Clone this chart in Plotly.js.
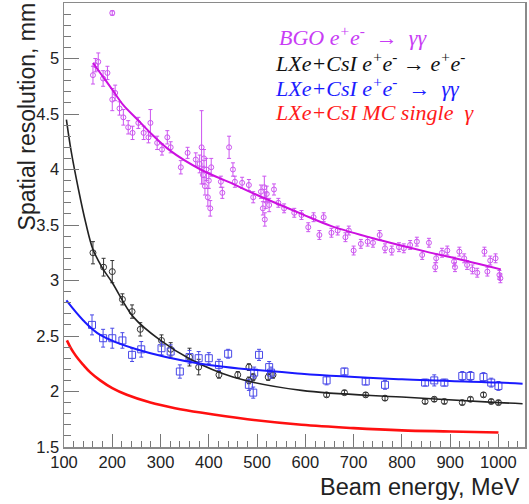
<!DOCTYPE html>
<html>
<head>
<meta charset="utf-8">
<script src="https://cdn.plot.ly/plotly-3.0.1.min.js"></script>
<style>html,body{margin:0;padding:0;background:#fff;}#chart{width:529px;height:504px;}</style>
</head>
<body>
<div id="chart"></div>
<script>
// BGO e+e- -> gamma gamma measurements
const bgoE = [160,165,171,181,190,200,206,215,223,233,242,254,265,275,279,293,303,314,321,342,356,373,381,385,388,390,392,395,398,400,403,405,425,428,442,450,454,469,483,492,508,512,515,516,518,520,525,535,544,556,577,592,606,617,629,638,654,667,683,690,700,715,729,740,754,765,779,794,804,817,831,842,856,869,871,883,894,908,910,919,929,935,946,956,971,977,983,994,1002,1004,200];
const bgoR = [4.85,4.94,4.97,4.82,4.87,4.63,4.69,4.55,4.47,4.38,4.33,4.42,4.33,4.29,4.42,4.24,4.18,4.29,4.20,4.02,4.15,4.09,4.05,4.20,3.95,4.10,3.85,4.00,3.75,3.90,3.65,4.02,3.89,3.79,4.20,4.00,3.89,3.88,3.86,3.75,3.80,3.65,3.84,3.55,3.72,3.78,3.68,3.82,3.70,3.65,3.61,3.59,3.48,3.57,3.41,3.57,3.43,3.45,3.39,3.45,3.27,3.33,3.35,3.34,3.41,3.29,3.27,3.30,3.29,3.32,3.35,3.23,3.34,3.12,3.20,3.25,3.27,3.17,3.12,3.26,3.20,3.14,3.10,3.07,3.26,3.08,3.18,3.20,3.05,3.02,5.41];
const bgoErr = [0.08,0.06,0.08,0.07,0.06,0.10,0.07,0.06,0.07,0.06,0.06,0.05,0.06,0.05,0.12,0.06,0.05,0.06,0.05,0.06,0.05,0.06,0.08,0.33,0.08,0.08,0.08,0.10,0.08,0.07,0.07,0.08,0.05,0.05,0.10,0.06,0.05,0.05,0.05,0.05,0.06,0.06,0.10,0.06,0.07,0.07,0.06,0.05,0.04,0.04,0.04,0.04,0.04,0.04,0.04,0.04,0.04,0.04,0.04,0.04,0.04,0.04,0.04,0.04,0.04,0.04,0.04,0.04,0.04,0.04,0.04,0.04,0.04,0.04,0.04,0.04,0.04,0.04,0.04,0.04,0.04,0.04,0.04,0.04,0.04,0.04,0.04,0.04,0.04,0.04,0.02];

// LXe+CsI e+e- -> e+e-
const blkE = [160,182,200,221,241,258,302,321,360,379,421,460,483,483,492,523,533,644,681,725,765,848,867,888,925,942,969,985,1000];
const blkR = [3.25,3.12,3.08,2.83,2.72,2.56,2.46,2.38,2.31,2.22,2.15,2.15,2.22,2.10,2.13,2.13,2.15,1.97,1.99,1.97,1.94,1.91,1.93,1.91,1.90,1.93,1.97,1.91,1.90];
const blkErr = [0.10,0.08,0.10,0.05,0.06,0.06,0.05,0.06,0.08,0.07,0.03,0.03,0.03,0.03,0.03,0.03,0.03,0.02,0.02,0.02,0.02,0.02,0.02,0.02,0.02,0.02,0.02,0.02,0.02];

// LXe+CsI e+e- -> gamma gamma
const bluE = [158,181,200,221,241,260,302,321,340,360,379,400,421,440,483,492,494,504,525,529,644,681,725,765,848,867,888,925,942,969,985,1000];
const bluR = [2.60,2.48,2.48,2.46,2.33,2.38,2.39,2.36,2.18,2.31,2.30,2.30,2.24,2.34,2.06,1.99,2.17,2.33,2.22,2.17,2.10,2.18,2.09,2.06,2.08,2.10,2.08,2.14,2.14,2.13,2.08,2.05];
const bluErr = [0.09,0.08,0.09,0.07,0.06,0.07,0.06,0.06,0.06,0.06,0.06,0.05,0.05,0.04,0.05,0.05,0.05,0.05,0.05,0.05,0.04,0.03,0.03,0.04,0.03,0.05,0.03,0.04,0.04,0.04,0.04,0.04];

// Fit curves
const bgoFitE = [160,180,200,223,250,279,320,383,450,500,592,654,758,850,930,1005];
const bgoFitR = [4.96,4.84,4.72,4.58,4.46,4.33,4.17,4.00,3.87,3.77,3.60,3.49,3.36,3.26,3.18,3.10];
const blkFitE = [105,115,130,145,160,180,200,244,300,362,450,592,800,1000,1050];
const blkFitR = [4.45,4.16,3.82,3.52,3.28,3.11,2.98,2.67,2.46,2.29,2.13,2.01,1.95,1.90,1.89];
const bluFitE = [105,140,175,250,383,592,800,1000,1050];
const bluFitR = [2.82,2.64,2.51,2.38,2.25,2.16,2.11,2.08,2.07];
const redFitE = [106,113,120,130,140,155,175,200,230,279,330,383,480,592,700,800,900,1000];
const redFitR = [2.46,2.40,2.35,2.29,2.24,2.17,2.10,2.03,1.97,1.90,1.85,1.81,1.75,1.70,1.67,1.65,1.64,1.63];

const legendTexts = [
  "BGO e<sup>+</sup>e<sup>-</sup>  →  γγ",
  "LXe+CsI e<sup>+</sup>e<sup>-</sup> → e<sup>+</sup>e<sup>-</sup>",
  "LXe+CsI e<sup>+</sup>e<sup>-</sup>  →  γγ",
  "LXe+CsI MC single  γ"
];
const legendColors = ['#c83cf5','#111111','#1c1cff','#ff1a1a'];

function pts(x, y, err, color, symbol, size){
  return {x:x, y:y, type:'scatter', mode:'markers',
    marker:{symbol:symbol, size:size, color:color, line:{color:color, width:1}},
    error_y:{type:'data', array:err, visible:true, color:color, thickness:1, width:2},
    showlegend:false, hoverinfo:'skip'};
}
function fit(x, y, color, w){
  return {x:x, y:y, type:'scatter', mode:'lines', line:{color:color, width:w, shape:'spline', smoothing:1},
    showlegend:false, hoverinfo:'skip'};
}

const traces = [
  pts(bgoE, bgoR, bgoErr, '#cc55f0', 'circle-open', 5),
  pts(blkE, blkR, blkErr, '#333333', 'circle-open', 6),
  pts(bluE, bluR, bluErr, '#4a4ae8', 'square-open', 7),
  fit(bgoFitE, bgoFitR, '#cc10e0', 2),
  fit(blkFitE, blkFitR, '#222222', 1.6),
  fit(bluFitE, bluFitR, '#1a1aff', 2),
  fit(redFitE, redFitR, '#ff1010', 2.6)
];

const annY = [0.926, 0.867, 0.81, 0.753];
const annotations = legendTexts.map((t,i)=>({
  xref:'paper', yref:'paper', x: i===0 ? 0.462 : 0.4534, y: annY[i],
  xanchor:'left', yanchor:'middle', showarrow:false,
  text:'<i>'+t+'</i>',
  font:{family:'Liberation Serif, Times New Roman, serif', size:22, color:legendColors[i]}
}));
annotations.push({
  xref:'paper', yref:'paper', x:-0.08, y:1.006, xanchor:'center', yanchor:'top',
  textangle:-90, showarrow:false, text:'Spatial resolution, mm',
  font:{family:'Liberation Sans, Arial, sans-serif', size:23, color:'#222'}
});
annotations.push({
  xref:'paper', yref:'paper', x:0.9935, y:-0.09, xanchor:'right', yanchor:'middle',
  showarrow:false, text:'Beam energy, MeV',
  font:{family:'Liberation Sans, Arial, sans-serif', size:23.5, color:'#222'}
});

const axisCommon = {
  showgrid:false, zeroline:false, showline:true, mirror:true, linecolor:'#8a8a8a', linewidth:1.5,
  ticks:'inside', tickcolor:'#777', tickwidth:1,
  tickfont:{family:'Liberation Sans, Arial, sans-serif', size:16.5, color:'#222'}
};

const layout = {
  width:529, height:504,
  margin:{l:64, r:4, t:3, b:57},
  paper_bgcolor:'#ffffff', plot_bgcolor:'#ffffff',
  showlegend:false,
  xaxis:Object.assign({}, axisCommon, {
    range:[100,1055], tick0:100, dtick:100, ticklen:13,
    minor:{dtick:20, ticklen:6, ticks:'inside', tickcolor:'#777', showgrid:false}
  }),
  yaxis:Object.assign({}, axisCommon, {
    range:[1.5,5.5], tick0:1.5, dtick:0.5, ticklen:15,
    minor:{dtick:0.1, ticklen:7, ticks:'inside', tickcolor:'#777', showgrid:false}
  }),
  annotations:annotations
};

Plotly.newPlot('chart', traces, layout, {staticPlot:true, displayModeBar:false});
</script>
</body>
</html>
